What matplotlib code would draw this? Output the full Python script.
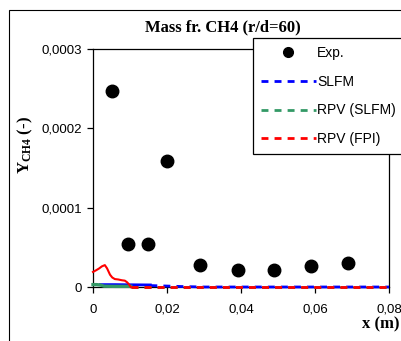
import matplotlib
matplotlib.use("Agg")
import matplotlib.pyplot as plt
from matplotlib.patches import Rectangle
from matplotlib.lines import Line2D

plt.rcParams['mathtext.fontset'] = 'custom'
plt.rcParams['mathtext.rm'] = 'Liberation Serif'
plt.rcParams['mathtext.bf'] = 'Liberation Serif:bold'

# ---------------- data ----------------
exp_x = [0.0051, 0.0095, 0.0149, 0.0200, 0.0290, 0.0392, 0.0490, 0.0590, 0.0690]
exp_y = [0.000247, 0.0000544, 0.0000544, 0.000159, 0.0000278, 0.0000215, 0.0000215, 0.0000266, 0.0000304]

# model curves: dense near-field part and coarse far-field part
slfm_near_x = [0.0020, 0.0060, 0.0100, 0.0155]
slfm_near_y = [0.0000030, 0.0000030, 0.0000028, 0.0000026]
slfm_far_x = [0.0155, 0.0200, 0.0240, 0.0300, 0.0400, 0.0500, 0.0600, 0.0700, 0.0800]
slfm_far_y = [0.0000018, 0.0000012, 0.0000006, 0.0, 0.0, 0.0, 0.0, 0.0, 0.0]

rpv_slfm_near_x = [0.0, 0.0010, 0.0020, 0.0030, 0.0060, 0.0102]
rpv_slfm_near_y = [0.0000030, 0.0000030, 0.0000025, 0.0000010, 0.0000008, 0.0000008]
rpv_slfm_far_x = [0.0102, 0.0200, 0.0400, 0.0600, 0.0800]
rpv_slfm_far_y = [0.0, 0.0, 0.0, 0.0, 0.0]

rpv_fpi_near_x = [0.0, 0.0008, 0.0016, 0.0024, 0.0032, 0.0038, 0.0046, 0.0052, 0.0059,
                  0.0068, 0.0078, 0.0086, 0.0092, 0.0097, 0.0102]
rpv_fpi_near_y = [0.0000190, 0.0000210, 0.0000232, 0.0000260, 0.0000276, 0.0000235,
                  0.0000155, 0.0000120, 0.0000100, 0.0000095, 0.0000085, 0.0000080,
                  0.0000060, 0.0000035, 0.0]
rpv_fpi_far_x = [0.0102, 0.0200, 0.0300, 0.0400, 0.0500, 0.0600, 0.0700, 0.0800]
rpv_fpi_far_y = [0.0, 0.0, 0.0, 0.0, 0.0, 0.0, 0.0, 0.0]

x_ticks = [0.0, 0.02, 0.04, 0.06, 0.08]
x_labels = ['0', '0,02', '0,04', '0,06', '0,08']
y_ticks = [0.0, 0.0001, 0.0002, 0.0003]
y_labels = ['0', '0,0001', '0,0002', '0,0003']

title = 'Mass fr. CH4 (r/d=60)'
labels = ['Exp.', 'SLFM', 'RPV (SLFM)', 'RPV (FPI)']

# ---------------- figure ----------------
W, H = 401, 341
fig = plt.figure(figsize=(W / 100, H / 100), dpi=100)
fig.patch.set_facecolor('white')

# outer chart-area border (extends past the right/bottom edge)
fig.patches.append(Rectangle((9 / W, -0.1), 1.2, 1 - 10 / H + 0.1, transform=fig.transFigure,
                             fill=False, edgecolor='black', linewidth=0.8, zorder=0))

ax = fig.add_axes([93 / W, 1 - 287 / H, (389 - 93) / W, (287 - 49) / H])
ax.set_xlim(0, 0.08)
ax.set_ylim(0, 0.0003)

blue = '#0000ff'
green = '#339966'
red = '#ff0000'
lw = 2.0
dash = (2.5, 2.2)

ax.plot(slfm_far_x, slfm_far_y, color=blue, lw=lw, dashes=dash, clip_on=False, zorder=3)
ax.plot(slfm_near_x, slfm_near_y, color=blue, lw=lw, clip_on=False, zorder=3)
ax.plot(rpv_slfm_far_x, rpv_slfm_far_y, color=green, lw=lw, dashes=dash, clip_on=False, zorder=3.1)
ax.plot(rpv_slfm_near_x, rpv_slfm_near_y, color=green, lw=2.4, clip_on=False, zorder=3.1)
ax.plot(rpv_fpi_far_x, rpv_fpi_far_y, color=red, lw=lw, dashes=dash, clip_on=False, zorder=3.2)
ax.plot(rpv_fpi_near_x, rpv_fpi_near_y, color=red, lw=1.5, clip_on=False, zorder=3.2)
ax.plot(exp_x, exp_y, 'o', color='black', ms=9, clip_on=False, zorder=4)

ax.set_xticks(x_ticks)
ax.set_xticklabels(x_labels)
ax.set_yticks(y_ticks)
ax.set_yticklabels(y_labels)
for s in ax.spines.values():
    s.set_linewidth(0.9)
ax.tick_params(axis='both', direction='out', length=4, width=0.9,
               labelsize=9.5, colors='black')
ax.tick_params(axis='x', pad=8)
ax.tick_params(axis='y', pad=4)
for t in ax.get_xticklabels() + ax.get_yticklabels():
    t.set_fontfamily('Liberation Sans')

fig.text(223 / W, 1 - 27 / H, title, ha='center', va='center',
         fontfamily='Liberation Serif', fontweight='bold', fontsize=12)
fig.text(25 / W, 1 - 145 / H, r'$\mathbf{Y_{CH4}}$ (-)', rotation=90, ha='center', va='center',
         fontfamily='Liberation Serif', fontweight='bold', fontsize=12)
fig.text(399.5 / W, 1 - 324 / H, 'x (m)', ha='right', va='center',
         fontfamily='Liberation Serif', fontweight='bold', fontsize=12)

handles = [
    Line2D([], [], ls='none', marker='o', color='black', ms=7),
    Line2D([], [], color=blue, lw=lw, dashes=dash),
    Line2D([], [], color=green, lw=lw, dashes=dash),
    Line2D([], [], color=red, lw=lw, dashes=dash),
]
leg = fig.legend(handles, labels, loc='upper left', bbox_to_anchor=(253 / W, 1 - 38 / H),
                 bbox_transform=fig.transFigure, frameon=True, fancybox=False,
                 edgecolor='black', framealpha=1, handlelength=3.9, handletextpad=0.1,
                 labelspacing=1.05, borderpad=0.6, borderaxespad=0,
                 prop={'family': 'Liberation Sans', 'size': 10})
leg.get_frame().set_linewidth(0.9)
leg.set_zorder(10)

fig.savefig('out.png', dpi=100)
